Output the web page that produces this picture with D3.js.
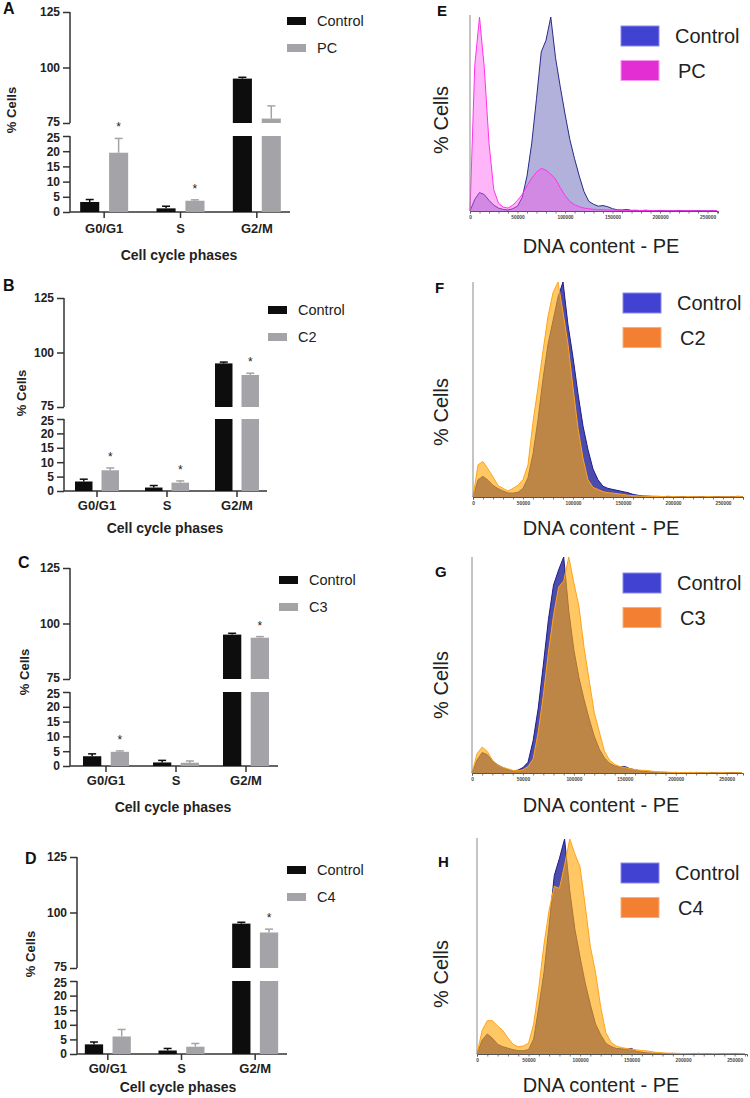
<!DOCTYPE html>
<html>
<head>
<meta charset="utf-8">
<script src="https://cdn.jsdelivr.net/npm/d3@7"></script>
<style>
  body { margin: 0; background: #fff; }
  svg { display: block; font-family: "Liberation Sans", Arial, sans-serif; }
</style>
</head>
<body>
<script>
// ---- bar data (% cells, mean and SD) ----
const phases = ["G0/G1", "S", "G2/M"];
const yTicks = [0, 5, 10, 15, 20, 25, 75, 100, 125];
const ctrlMean = [3.3, 1.2, 95.0];
const ctrlErr = [0.8, 0.7, 0.6];
const pcMean = [19.5, 3.7, 77.0];
const pcErr = [4.7, 0.3, 5.7];
const c2Mean = [7.2, 2.9, 89.7];
const c2Err = [0.8, 0.6, 0.8];
const c3Mean = [4.8, 1.1, 93.6];
const c3Err = [0.3, 0.6, 0.5];
const c4Mean = [6.0, 2.5, 91.0];
const c4Err = [2.4, 1.1, 1.5];
const pcSig = [1, 1, 0];
const c2Sig = [1, 1, 1];
const c3Sig = [1, 0, 1];
const c4Sig = [0, 0, 1];

// ---- histogram data (counts as % of the peak, bins every 5000) ----
const dnaBins = d3.range(0, 275000, 5000);
const dnaTicks = [0, 50000, 100000, 150000, 200000, 250000];
const ctlE = [0,6,9.5,8.5,5.5,3,1.5,0.8,0.5,1.2, 2.5,7,18,35,58,82,88,100,79,64,
  50,37,27,18,10,5,3.5,2.5,2.8,2.2, 1.2,0.6,0.5,0.8,0.3,0.3,0.2,0.4,0.2,0.1,
  0.3,0.2,0.1,0.2,0.3,0.1,0.2,0.1,0.2,0.1, 0.1,0.2,0.1,0.1,0.1];
const pcE = [0,75,100,74,35,11,4,2,1.5,3, 5.5,8.5,13,17,20,22,21,19,16.5,12,
  8,5,3.2,2.2,1.5,1.2,0.9,0.7,0.6,0.5, 0.5,0.4,0.4,0.3,0.3,0.4,0.2,0.3,0.2,0.2,
  0.1,0.2,0.1,0.2,0.1,0.1,0.2,0.1,0.1,0.1, 0.1,0.1,0.2,0.1,0.1];
const ctlF = [0,8,9.6,7.8,5.4,3.9,2.8,1.9,1.8,2.2, 4,9,20,36,55,71,82,93,100,80,
  65,48,33,22,13,8,5,4,3.5,3, 2.5,2,1.2,0.8,0.5,0.4,0.3,0.3,0.2,0.3,
  0.2,0.1,0.2,0.2,0.1,0.1,0.2,0.1,0.1,0.2, 0.1,0.1,0.2,0.3,0.2];
const c2F = [0,15,16.5,13,9.3,5.4,4,2.8,4,5.5, 8,15,35,51,68,84,95,100,86,71,
  51,32,18,8,4.5,3.5,2.5,2,1.8,1.5, 1.2,0.8,0.6,0.5,0.4,0.3,0.3,0.2,0.2,0.1,
  0.2,0.1,0.1,0.2,0.1,0.1,0.1,0.2,0.1,0.1, 0.1,0.1,0.1,0.2,0.1];
const ctlG = [0,6,9.5,8.5,5.5,3.8,2.6,1.6,1,1.3, 2.5,5,15,30,50,71,87,94,100,75,
  57,44,34,25,17,11,7,4.5,3.3,2.8, 3,2,1.5,1,0.7,0.5,0.4,0.3,0.3,0.2,
  0.2,0.1,0.2,0.1,0.3,0.1,0.1,0.2,0.1,0.1, 0.1,0.2,0.1,0.1,0.1];
const c3G = [0,9,12,10,6,3.8,2.6,2,1.2,1, 1.5,3,6.5,19,36,56,73,86,89,100,
  88,77,58,43,28,19,10,6,4,3, 2.5,2,1.6,1.3,1.2,1,0.6,0.5,0.4,0.3,
  0.3,0.2,0.2,0.3,0.2,0.1,0.2,0.1,0.1,0.2, 0.1,0.1,0.1,0.2,0.1];
const ctlH = [0,6.5,9.3,7.3,4.5,3.4,2.7,2,1.6,1.5, 2,7,22,38,60,83,91,100,76,58,
  45,33,23,14,9,5,3.5,2.6,2.4,2.2, 2.6,1.2,0.8,0.5,0.4,0.4,0.3,0.2,0.3,0.2,
  0.1,0.2,0.1,0.3,0.1,0.1,0.2,0.1,0.1,0.1, 0.2,0.1,0.1,0.3,0.1];
const c4H = [0,11,15.5,15.5,13,11,7.5,4.5,3.4,3.7, 5,14,31,51,67,78,77,88,100,93,
  87,69,50,38,22,10,5.5,3.7,3,2.6, 2.2,1.9,1.6,1.4,1,0.7,0.5,0.4,0.3,0.3,
  0.2,0.2,0.1,0.2,0.1,0.1,0.2,0.1,0.1,0.1, 0.1,0.1,0.2,0.1,0.1];

const svg = d3.select("body").append("svg").attr("width", 750).attr("height", 1098);
svg.append("rect").attr("width", 750).attr("height", 1098).attr("fill", "#fff");

const barPanels = [
  { letter: "A", lx: 3, ly: 14, name: "PC", mean: pcMean, err: pcErr, sig: pcSig,
    left: 70, right: 290, yTop: 12, y75: 123, y25: 136, y0: 212, band: [66, 295], half: 24,
    legX: 287, legY: 17, titleX: 179, titleY: 260, yLabX: 11, yLabY: 110, tickDy: 21 },
  { letter: "B", lx: 3, ly: 291, name: "C2", mean: c2Mean, err: c2Err, sig: c2Sig,
    left: 64, right: 267, yTop: 298, y75: 407, y25: 419, y0: 491, band: [62, 272], half: 22,
    legX: 268, legY: 306, titleX: 165, titleY: 533, yLabX: 21, yLabY: 393, tickDy: 19 },
  { letter: "C", lx: 18, ly: 568, name: "C3", mean: c3Mean, err: c3Err, sig: c3Sig,
    left: 70, right: 278, yTop: 568, y75: 679, y25: 692, y0: 766, band: [71, 281], half: 23,
    legX: 279, legY: 576, titleX: 173, titleY: 812, yLabX: 24, yLabY: 672, tickDy: 19 },
  { letter: "D", lx: 25, ly: 864, name: "C4", mean: c4Mean, err: c4Err, sig: c4Sig,
    left: 77, right: 287, yTop: 857, y75: 968, y25: 981, y0: 1054, band: [71, 292], half: 23,
    legX: 287, legY: 866, titleX: 178, titleY: 1092, yLabX: 30, yLabY: 954, tickDy: 19 }
];

const barColors = ["#0d0d0d", "#a4a4a8"];

const drawBarPanel = (p) => {
  const g = svg.append("g");
  const y = d3.scaleLinear().domain([0, 25, 75, 125]).range([p.y0, p.y25, p.y75, p.yTop]);
  const x = d3.scaleBand().domain(phases).range(p.band);
  const xs = d3.scaleBand().domain([0, 1]).range([-p.half, p.half]).paddingInner(0.34);

  // y axis, drawn in two pieces around the break
  const yAxis = g.append("g")
    .attr("transform", "translate(" + p.left + ",0)")
    .call(d3.axisLeft(y).tickValues(yTicks).tickSize(7).tickPadding(3));
  yAxis.select(".domain").remove();
  yAxis.selectAll("line").attr("stroke", "#333").attr("stroke-width", 1.5);
  yAxis.selectAll("text").attr("font-size", 12).attr("font-weight", "bold")
    .attr("fill", "#222").style("font-family", "Liberation Sans, Arial, sans-serif")
    .attr("y", (d) => (d === 75 ? -1.5 : d === 25 ? 1.5 : 0));
  [[0, 25], [75, 125]].forEach((seg) => {
    g.append("line").attr("x1", p.left).attr("x2", p.left)
      .attr("y1", y(seg[0])).attr("y2", y(seg[1]))
      .attr("stroke", "#333").attr("stroke-width", 1.5);
  });

  // x axis
  g.append("line").attr("x1", p.left).attr("x2", p.right)
    .attr("y1", p.y0).attr("y2", p.y0).attr("stroke", "#333").attr("stroke-width", 1.5);
  phases.forEach((ph) => {
    const cx = x(ph) + x.bandwidth() / 2;
    g.append("line").attr("x1", cx).attr("x2", cx).attr("y1", p.y0).attr("y2", p.y0 + 6)
      .attr("stroke", "#333").attr("stroke-width", 1.5);
    g.append("text").attr("x", cx).attr("y", p.y0 + p.tickDy).attr("text-anchor", "middle")
      .attr("font-size", 13).attr("font-weight", "bold").attr("fill", "#222").text(ph);
  });

  const rows = [];
  phases.forEach((ph, i) => {
    rows.push({ s: 0, ph: ph, v: ctrlMean[i], e: ctrlErr[i], sig: 0 });
    rows.push({ s: 1, ph: ph, v: p.mean[i], e: p.err[i], sig: p.sig[i] });
  });
  const cxOf = (d) => x(d.ph) + x.bandwidth() / 2 + xs(d.s) + xs.bandwidth() / 2;

  rows.forEach((d) => {
    const bx = x(d.ph) + x.bandwidth() / 2 + xs(d.s);
    const segs = [[0, Math.min(d.v, 25)]];
    if (d.v > 75) segs.push([75, d.v]);
    segs.forEach((s) => {
      g.append("rect").attr("x", bx).attr("width", xs.bandwidth())
        .attr("y", y(s[1])).attr("height", y(s[0]) - y(s[1]))
        .attr("fill", barColors[d.s]);
    });
    const cx = cxOf(d);
    const top = y(d.v + d.e);
    g.append("line").attr("x1", cx).attr("x2", cx).attr("y1", y(d.v)).attr("y2", top)
      .attr("stroke", barColors[d.s]).attr("stroke-width", 1.5);
    g.append("line").attr("x1", cx - 4).attr("x2", cx + 4).attr("y1", top).attr("y2", top)
      .attr("stroke", barColors[d.s]).attr("stroke-width", 1.5);
    if (d.sig) {
      g.append("text").attr("x", cx).attr("y", top - 7).attr("text-anchor", "middle")
        .attr("font-size", 12).attr("fill", "#222").text("*");
    }
  });

  // titles
  g.append("text").attr("x", p.titleX).attr("y", p.titleY).attr("text-anchor", "middle")
    .attr("font-size", 14).attr("font-weight", "bold").attr("fill", "#222")
    .text("Cell cycle phases");
  g.append("text").attr("transform", "translate(" + (p.yLabX + 5) + "," + p.yLabY + ") rotate(-90)")
    .attr("text-anchor", "middle").attr("font-size", 13).attr("font-weight", "bold")
    .attr("fill", "#222").text("% Cells");
  g.append("text").attr("x", p.lx).attr("y", p.ly).attr("font-size", 16)
    .attr("font-weight", "bold").attr("fill", "#111").text(p.letter);

  // legend
  ["Control", p.name].forEach((name, i) => {
    g.append("rect").attr("x", p.legX).attr("y", p.legY + i * 27)
      .attr("width", 19).attr("height", 8).attr("fill", barColors[i]);
    g.append("text").attr("x", p.legX + 30).attr("y", p.legY + i * 27 + 9)
      .attr("font-size", 14.5).attr("fill", "#222").text(name);
  });
};

barPanels.forEach(drawBarPanel);

// ---- histograms ----
const histStyles = {
  pink: {
    ctlFill: "rgba(60,60,165,0.40)", ctlStroke: "#2a2a88",
    trtFill: "rgba(255,80,240,0.42)", trtStroke: "#ff33ee",
    legTrt: "#e22ed2", legTrtStroke: "#f59af0"
  },
  orange: {
    ctlFill: "rgba(45,45,160,0.85)", ctlStroke: "#1c1c8a",
    trtFill: "rgba(255,168,10,0.63)", trtStroke: "#ffa31a",
    legTrt: "#f27f32", legTrtStroke: "#f6b080"
  }
};

const histPanels = [
  { letter: "E", lx: 437, ly: 16, ctl: ctlE, trt: pcE, name: "PC", kind: "pink",
    x0: 470, x1: 718, xMax: 261000, yBase: 211, yTop: 17, axTop: 15,
    legX: 621, legY: 26, yLabY: 120, titleY: 253 },
  { letter: "F", lx: 435, ly: 293, ctl: ctlF, trt: c2F, name: "C2", kind: "orange",
    x0: 473, x1: 743, xMax: 270000, yBase: 497, yTop: 282, axTop: 282,
    legX: 623, legY: 293, yLabY: 412, titleY: 535 },
  { letter: "G", lx: 435, ly: 577, ctl: ctlG, trt: c3G, name: "C3", kind: "orange",
    x0: 472, x1: 743, xMax: 266000, yBase: 773, yTop: 557, axTop: 557,
    legX: 623, legY: 573, yLabY: 685, titleY: 812 },
  { letter: "H", lx: 438, ly: 867, ctl: ctlH, trt: c4H, name: "C4", kind: "orange",
    x0: 477, x1: 747, xMax: 262000, yBase: 1054, yTop: 839, axTop: 838,
    legX: 621, legY: 863, yLabY: 974, titleY: 1092 }
];

const drawHistPanel = (p) => {
  const st = histStyles[p.kind];
  const g = svg.append("g");
  const x = d3.scaleLinear().domain([0, p.xMax]).range([p.x0, p.x1]);
  const y = d3.scaleLinear().domain([0, 100]).range([p.yBase, p.yTop]);
  const area = d3.area().x((d) => x(d.x)).y0(p.yBase).y1((d) => y(d.v));
  const line = d3.line().x((d) => x(d.x)).y((d) => y(d.v));
  const series = (arr) => dnaBins.map((b, i) => ({ x: b, v: arr[i] })).filter((d) => d.x <= p.xMax);

  const ctl = series(p.ctl);
  const trt = series(p.trt);
  g.append("path").datum(ctl).attr("d", area).attr("fill", st.ctlFill);
  g.append("path").datum(ctl).attr("d", line).attr("fill", "none")
    .attr("stroke", st.ctlStroke).attr("stroke-width", 1);
  g.append("path").datum(trt).attr("d", area).attr("fill", st.trtFill);
  g.append("path").datum(trt).attr("d", line).attr("fill", "none")
    .attr("stroke", st.trtStroke).attr("stroke-width", 1);

  // axes
  g.append("line").attr("x1", p.x0).attr("x2", p.x0).attr("y1", p.yBase).attr("y2", p.axTop)
    .attr("stroke", "#8a8a8a").attr("stroke-width", 1);
  const xAxis = g.append("g").attr("transform", "translate(0," + p.yBase + ")")
    .call(d3.axisBottom(x).tickValues(d3.range(0, p.xMax + 1, 10000)).tickSize(2.5)
      .tickPadding(2).tickFormat((d) => (dnaTicks.includes(d) ? d : "")));
  xAxis.select(".domain").attr("stroke", "#555").attr("stroke-width", 1);
  xAxis.selectAll("line").attr("stroke", "#555").attr("stroke-width", 0.8);
  xAxis.selectAll("text").attr("font-size", 4.8).attr("font-weight", "bold")
    .attr("fill", "#444").style("font-family", "Liberation Sans, Arial, sans-serif");

  g.append("text").attr("x", 601).attr("y", p.titleY).attr("text-anchor", "middle")
    .attr("font-size", 20).attr("fill", "#222").text("DNA content - PE");
  g.append("text").attr("transform", "translate(448," + p.yLabY + ") rotate(-90)")
    .attr("text-anchor", "middle").attr("font-size", 20).attr("fill", "#222").text("% Cells");
  g.append("text").attr("x", p.lx).attr("y", p.ly).attr("font-size", 15)
    .attr("font-weight", "bold").attr("fill", "#111").text(p.letter);

  // legend
  const legFill = ["#4242d2", st.legTrt];
  const legStroke = ["#8a8af0", st.legTrtStroke];
  ["Control", p.name].forEach((name, i) => {
    g.append("rect").attr("x", p.legX).attr("y", p.legY + i * 34.5)
      .attr("width", 38).attr("height", 20).attr("fill", legFill[i])
      .attr("stroke", legStroke[i]).attr("stroke-width", 1);
    g.append("text").attr("x", p.legX + 54 + i * 3).attr("y", p.legY + i * 34.5 + 17)
      .attr("font-size", 20).attr("fill", "#222").text(name);
  });
};

histPanels.forEach(drawHistPanel);
</script>
</body>
</html>
